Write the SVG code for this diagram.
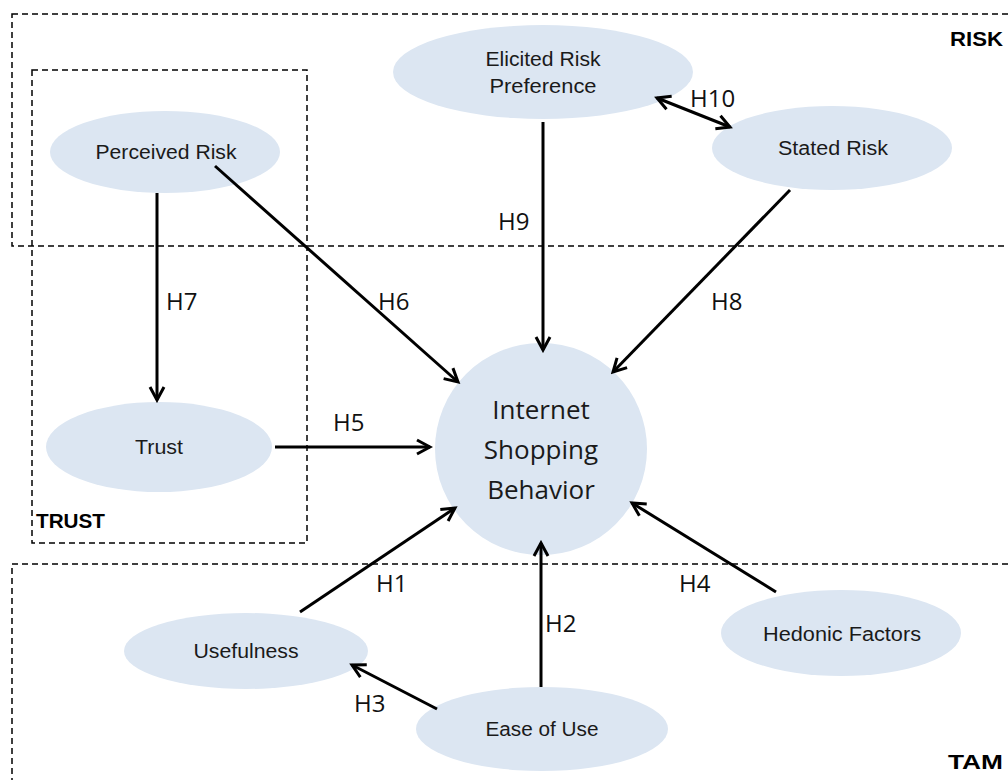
<svg xmlns="http://www.w3.org/2000/svg" width="1008" height="780" viewBox="0 0 1008 780">
<defs>
<marker id="arr" markerUnits="userSpaceOnUse" markerWidth="20" markerHeight="20" viewBox="0 0 20 20" refX="17" refY="10" orient="auto-start-reverse">
<path d="M4,3 L17,10 L4,17" fill="none" stroke="#000" stroke-width="3" stroke-linejoin="miter"/>
</marker>
</defs>
<style>
.box{fill:none;stroke:#000;stroke-width:1.5;stroke-dasharray:6 4}
.node{fill:#dce6f2}
.lbl{font-family:"Liberation Sans",Arial,sans-serif;font-size:20px;fill:#1a1a1a;text-anchor:middle;dominant-baseline:central}
.big{font-family:"Open Sans","Liberation Sans",sans-serif;font-size:26px;fill:#1a1a1a;text-anchor:middle;dominant-baseline:central}
.h{font-family:"Open Sans","Liberation Sans",sans-serif;font-size:24px;fill:#111;dominant-baseline:central}
.grp{font-family:"Liberation Sans",Arial,sans-serif;font-size:20px;font-weight:bold;fill:#000;dominant-baseline:central}
.c{fill:none;stroke:#000;stroke-width:3;marker-end:url(#arr)}
</style>
<rect width="1008" height="780" fill="#fff"/>
<g id="groups">
<rect class="box" x="12" y="14" width="1010" height="232"/>
<rect class="box" x="32" y="70" width="275" height="473"/>
<rect class="box" x="12" y="564" width="1010" height="230"/>
<text class="grp" x="950" y="39" textLength="53" lengthAdjust="spacingAndGlyphs">RISK</text>
<text class="grp" x="36" y="521" textLength="69" lengthAdjust="spacingAndGlyphs">TRUST</text>
<text class="grp" x="948" y="762" textLength="55" lengthAdjust="spacingAndGlyphs">TAM</text>
</g>
<g id="elicited"><ellipse class="node" cx="543" cy="72" rx="150" ry="47"/><text class="lbl" x="543" y="59" textLength="115" lengthAdjust="spacingAndGlyphs">Elicited Risk</text><text class="lbl" x="543" y="86" textLength="107" lengthAdjust="spacingAndGlyphs">Preference</text></g>
<g id="stated"><ellipse class="node" cx="832" cy="148" rx="120" ry="42"/><text class="lbl" x="833" y="148" textLength="110" lengthAdjust="spacingAndGlyphs">Stated Risk</text></g>
<g id="perceived"><ellipse class="node" cx="165" cy="152" rx="115" ry="41"/><text class="lbl" x="166" y="152" textLength="141" lengthAdjust="spacingAndGlyphs">Perceived Risk</text></g>
<g id="trust"><ellipse class="node" cx="159" cy="447" rx="113" ry="45"/><text class="lbl" x="159" y="447" textLength="48" lengthAdjust="spacingAndGlyphs">Trust</text></g>
<g id="isb"><circle class="node" cx="541" cy="449" r="106"/><text class="big" x="541" y="409">Internet</text><text class="big" x="541" y="449">Shopping</text><text class="big" x="541" y="489">Behavior</text></g>
<g id="usefulness"><ellipse class="node" cx="246" cy="651" rx="122" ry="38"/><text class="lbl" x="246" y="651" textLength="105" lengthAdjust="spacingAndGlyphs">Usefulness</text></g>
<g id="ease"><ellipse class="node" cx="542" cy="729" rx="126" ry="42"/><text class="lbl" x="542" y="729" textLength="113" lengthAdjust="spacingAndGlyphs">Ease of Use</text></g>
<g id="hedonic"><ellipse class="node" cx="841" cy="633" rx="120" ry="43"/><text class="lbl" x="842" y="634" textLength="158" lengthAdjust="spacingAndGlyphs">Hedonic Factors</text></g>
<g id="connectors">
<line class="c" x1="543" y1="122" x2="543" y2="350"/>
<line class="c" x1="657" y1="98" x2="730" y2="127" style="marker-start:url(#arr)"/>
<line class="c" x1="790" y1="190" x2="613" y2="372"/>
<line class="c" x1="215" y1="166" x2="458" y2="382"/>
<line class="c" x1="157" y1="193" x2="157" y2="400"/>
<line class="c" x1="275" y1="447" x2="430" y2="447"/>
<line class="c" x1="300" y1="612" x2="455" y2="508"/>
<line class="c" x1="541" y1="687" x2="541" y2="543"/>
<line class="c" x1="776" y1="592" x2="632" y2="503"/>
<line class="c" x1="437" y1="709" x2="352" y2="665"/>
<text class="h" x="498" y="220">H9</text>
<text class="h" x="690" y="97">H10</text>
<text class="h" x="711" y="300">H8</text>
<text class="h" x="378" y="300">H6</text>
<text class="h" x="166" y="300">H7</text>
<text class="h" x="333" y="421">H5</text>
<text class="h" x="376" y="582">H1</text>
<text class="h" x="545" y="622">H2</text>
<text class="h" x="679" y="582">H4</text>
<text class="h" x="354" y="702">H3</text>
</g>
</svg>
